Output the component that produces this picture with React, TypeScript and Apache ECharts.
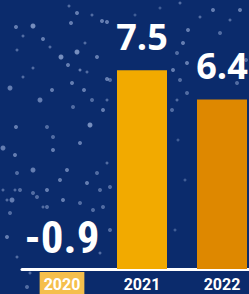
import React, { useEffect, useRef } from "react";
import * as echarts from "echarts";

const categories = ["2020", "2021", "2022"];
const values = [-0.9, 7.5, 6.4];
const barColors = ["#f2aa00", "#f2aa00", "#de8800"];

// decorative snow dots: [x, y, r, alpha]
const dots: number[][] = [
  [16, 27, 2, 0.5], [33, 26, 2.5, 0.6], [71, 23, 2, 0.5], [77, 13, 2, 0.5], [69, 6, 1.5, 0.4],
  [92, 15, 1.5, 0.4], [102, 21, 2, 0.5], [43, 39, 2, 0.5], [23, 36, 1.5, 0.4], [61, 57, 2.5, 0.6],
  [77, 52, 2.5, 0.6], [85, 43, 1.5, 0.4], [97, 57, 2, 0.5], [68, 65, 2, 0.5], [80, 70, 1.5, 0.5],
  [87, 72, 1.5, 0.4], [33, 68, 1.5, 0.4], [10, 88, 2.5, 0.5], [23, 77, 1.5, 0.4], [52, 90, 2, 0.5],
  [72, 83, 2, 0.5], [84, 90, 2, 0.5], [92, 100, 2, 0.4], [107, 79, 2, 0.5], [40, 100, 2.5, 0.5],
  [73, 107, 2, 0.4], [103, 110, 2, 0.5], [17, 50, 1.5, 0.4], [50, 47, 1.5, 0.4],
  [16, 127, 2, 0.5], [47, 127, 2, 0.4], [90, 125, 2.5, 0.6], [53, 137, 2, 0.4], [3, 148, 2.5, 0.5],
  [15, 155, 2, 0.5], [53, 150, 2, 0.5], [80, 143, 2, 0.5], [33, 170, 2.5, 0.5], [17, 173, 2, 0.4],
  [67, 170, 2, 0.5], [97, 173, 2, 0.4], [107, 163, 1.5, 0.4], [60, 180, 2, 0.5], [20, 190, 2, 0.4],
  [3, 190, 1.5, 0.4], [47, 190, 2, 0.5], [87, 183, 2, 0.5], [100, 190, 2, 0.4], [12, 200, 2.5, 0.5],
  [37, 197, 2, 0.4], [63, 200, 2, 0.5], [80, 203, 2, 0.4], [110, 187, 2, 0.4], [10, 213, 2, 0.4],
  [47, 207, 2, 0.4], [93, 210, 2, 0.4], [7, 200, 1.5, 0.4], [15, 190, 1.5, 0.4], [33, 193, 2, 0.4],
  [43, 207, 1.5, 0.4], [103, 207, 2, 0.4], [7, 237, 2, 0.5], [17, 257, 1.5, 0.4], [30, 273, 1.5, 0.4],
  [27, 287, 2, 0.4], [110, 230, 2, 0.4], [100, 253, 1.5, 0.4],
  [107, 22, 2, 0.5], [180, 3, 1.5, 0.4], [188, 30, 2, 0.5], [200, 17, 1.5, 0.4], [213, 10, 2, 0.5],
  [220, 33, 2, 0.4], [230, 20, 1.5, 0.4], [240, 10, 2, 0.5], [183, 43, 2, 0.5], [177, 53, 2, 0.4],
  [187, 63, 2, 0.5], [173, 70, 2, 0.5], [180, 80, 2, 0.4], [187, 93, 2, 0.4], [177, 100, 1.5, 0.4],
  [172, 110, 2, 0.4], [237, 83, 2, 0.4], [110, 80, 2, 0.4], [107, 100, 1.5, 0.4], [178, 140, 1.5, 0.3],
  [185, 180, 1.5, 0.3], [175, 230, 1.5, 0.3], [246, 60, 2, 0.4], [160, 8, 1.5, 0.3], [135, 15, 1.5, 0.3]
];

export default function App() {
  const ref = useRef<HTMLDivElement>(null);
  useEffect(() => {
    document.body.style.margin = "0";
    const chart = echarts.init(ref.current!, null, { renderer: "svg" });
    const labelStyles = values.map((v) =>
      v < 0
        ? { fontSize: 45, distance: 9, fontFamily: "'Roboto Condensed', 'Roboto', sans-serif" }
        : { fontSize: 36, distance: 16, fontFamily: "'Open Sans', 'Roboto', sans-serif" }
    );
    chart.setOption({
      animation: false,
      backgroundColor: "#0b2b6c",
      graphic: [
        {
          type: "group",
          z: -10,
          silent: true,
          children: dots.map((d) => ({
            type: "circle",
            shape: { cx: d[0], cy: d[1], r: d[2] },
            style: { fill: `rgba(190,208,245,${d[3]})` },
          })),
        },
      ],
      grid: { left: 22, width: 240, top: 0, bottom: 25, containLabel: false, outerBoundsMode: "none" },
      xAxis: {
        type: "category",
        data: categories,
        axisLine: { show: true, lineStyle: { color: "#ffffff", width: 3 } },
        axisTick: { show: false },
        axisLabel: {
          interval: 0,
          margin: 3,
          formatter: (v: string, i: number) => (i === 0 ? `{hl|${v}}` : `{n|${v}}`),
          rich: {
            hl: {
              color: "#ffffff",
              fontSize: 16,
              fontWeight: "bold",
              fontFamily: "Roboto, sans-serif",
              backgroundColor: "#f5bf4c",
              padding: [4, 4, 5, 4],
            },
            n: {
              color: "#ffffff",
              fontSize: 16,
              fontWeight: "bold",
              fontFamily: "Roboto, sans-serif",
              padding: [4, 4, 5, 4],
            },
          },
        },
      },
      yAxis: {
        type: "value",
        min: 0,
        max: 10.15,
        show: false,
        splitLine: { show: false },
      },
      series: [
        {
          type: "bar",
          barWidth: 50,
          data: values.map((v, i) => ({
            value: Math.max(v, 0),
            itemStyle: { color: barColors[i] },
          })),
        },
        {
          type: "scatter",
          symbolSize: 0,
          z: 5,
          itemStyle: { opacity: 1 },
          data: values.map((v, i) => ({
            value: [i, Math.max(v, 0)],
            itemStyle: { opacity: 1 },
            label: {
              show: true,
              position: "top",
              formatter: String(v),
              color: "#ffffff",
              fontWeight: "bold",
              opacity: 1,
              ...labelStyles[i],
            },
          })),
        },
      ],
    });
    return () => chart.dispose();
  }, []);
  return <div ref={ref} style={{ width: 249, height: 294 }} />;
}
